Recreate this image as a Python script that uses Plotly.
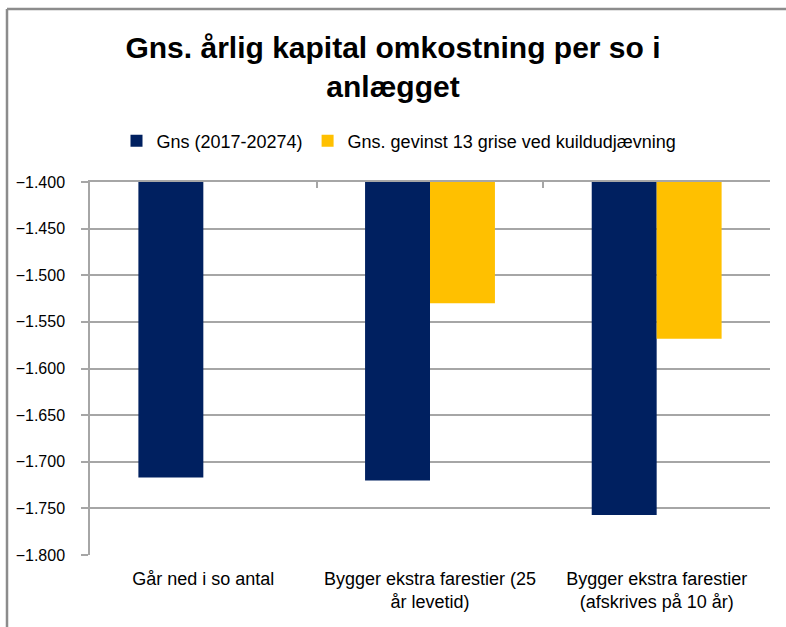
import plotly.graph_objects as go

categories = ["Går ned i so antal",
              "Bygger ekstra farestier (25<br>år levetid)",
              "Bygger ekstra farestier<br>(afskrives på 10 år)"]
series_names = ["Gns (2017-20274)", "Gns. gevinst 13 grise ved kuildudjævning"]
gns_values = [-1717, -1720, -1757]
gevinst_values = [None, -1530, -1568]
y_tickvals = [-1800, -1750, -1700, -1650, -1600, -1550, -1500, -1450, -1400]
boundary_ticks = [0.5, 1.5, 2.5]

NAVY = "#002060"
GOLD = "#FFC000"
FONT = "Liberation Sans, Arial, sans-serif"

fig = go.Figure()
fig.add_trace(go.Bar(x=categories, y=gns_values, name=series_names[0],
                     marker=dict(color=NAVY, line=dict(width=0))))
fig.add_trace(go.Bar(x=categories, y=gevinst_values, name=series_names[1],
                     marker=dict(color=GOLD, line=dict(width=0))))
# helper trace so the top category axis (with boundary ticks) is drawn
fig.add_trace(go.Scatter(x=boundary_ticks, y=[None] * 3, xaxis="x2",
                         showlegend=False, hoverinfo="skip", mode="lines"))

border_left = (7 - 90) / 680
border_top = (555 - 9) / 373

fig.update_layout(
    width=786, height=627,
    paper_bgcolor="white", plot_bgcolor="white",
    margin=dict(l=90, r=16, t=182, b=72, autoexpand=False),
    separators=",.",
    font=dict(family=FONT, size=17, color="#000000"),
    title=dict(text="<b>Gns. årlig kapital omkostning per so i<br>anlægget</b>",
               x=0.5, xanchor="center", xref="container",
               y=1 - 58 / 627, yanchor="middle", yref="container",
               font=dict(family=FONT, size=30, color="#000000")),
    barmode="group", bargap=0.427, bargroupgap=0,
    legend=dict(orientation="h", xref="container", yref="container",
                x=399 / 786, xanchor="center", y=1 - 141 / 627, yanchor="middle",
                font=dict(family=FONT, size=18, color="#000000"),
                itemwidth=30, bgcolor="rgba(0,0,0,0)"),
    xaxis=dict(type="category", showgrid=False, showline=False, ticks="",
               tickfont=dict(family=FONT, size=18, color="#000000"),
               ticklabelstandoff=11, zeroline=False, automargin=False),
    xaxis2=dict(overlaying="x", side="top", range=[-0.5, 2.5],
                tickmode="array", tickvals=boundary_ticks, ticks="inside",
                ticklen=6, tickcolor="#a6a6a6", tickwidth=1.5,
                showticklabels=False, showgrid=False, showline=True,
                linecolor="#a6a6a6", linewidth=1.5, zeroline=False),
    yaxis=dict(range=[-1800, -1400], tickmode="array", tickvals=y_tickvals,
               tickformat=",.0f", showgrid=True, gridcolor="#a6a6a6", gridwidth=1.5,
               showline=True, linecolor="#a6a6a6", linewidth=1.5,
               ticks="outside", ticklen=7, tickcolor="#a6a6a6", tickwidth=1.5,
               ticklabelstandoff=13, zeroline=False, automargin=False,
               tickfont=dict(family=FONT, size=16, color="#000000")),
    shapes=[
        dict(type="line", xref="paper", yref="paper",
             x0=border_left, x1=1.5, y0=border_top, y1=border_top,
             line=dict(color="#8c8c8c", width=2.5), layer="below"),
        dict(type="line", xref="paper", yref="paper",
             x0=border_left, x1=border_left, y0=-1.0, y1=border_top,
             line=dict(color="#8c8c8c", width=2.5), layer="below"),
    ],
)

fig.write_html("out.html", config={"displayModeBar": False},
               post_script="document.body.style.margin='0';document.body.style.overflow='hidden';")
